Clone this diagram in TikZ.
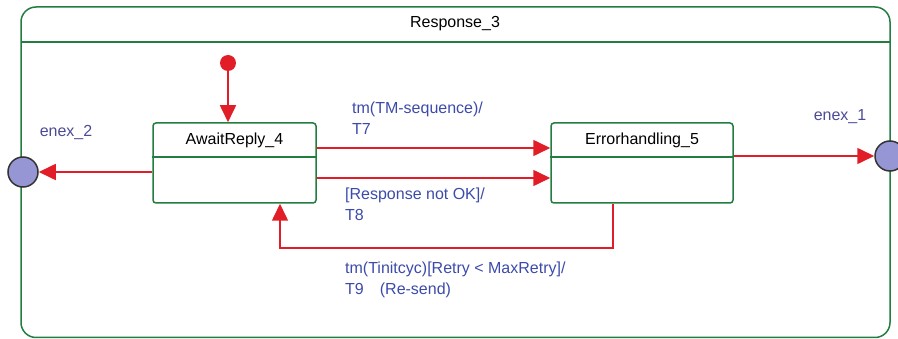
\documentclass[tikz,border=0pt]{standalone}
\usepackage{fontspec}
\setmainfont{Liberation Sans}
\usetikzlibrary{arrows.meta}
\definecolor{stgreen}{RGB}{35,125,65}
\definecolor{trred}{RGB}{225,30,40}
\definecolor{lblblue}{RGB}{60,75,170}
\definecolor{exblue}{RGB}{75,75,150}
\definecolor{exfill}{RGB}{150,150,212}
\begin{document}
\begin{tikzpicture}[x=1pt,y=-1pt,
  font=\fontsize{16}{20.5}\selectfont,
  statebox/.style={draw=stgreen,line width=1.5pt,rounded corners=3pt,minimum height=80pt,inner sep=0pt},
  tr/.style={draw=trred,line width=1.6pt,-{Triangle[length=17pt,width=16pt]}},
  lbl/.style={text=lblblue,align=left,anchor=north west,inner sep=0pt},
  exlbl/.style={text=exblue,inner sep=0pt},
  exnode/.style={circle,draw=black!80,line width=1.5pt,fill=exfill,minimum size=30pt,inner sep=0pt}]
\useasboundingbox (0,0) rectangle (898,339);
% container
\draw[stgreen,line width=1.5pt,rounded corners=15pt] (21,7) rectangle (890,337.5);
\draw[stgreen,line width=1.5pt] (21,42) -- (890,42);
\node (title) at (455,24) {Response\_3};
% states
\node[statebox,minimum width=163pt] (aw) at (234.5,163) {};
\node[anchor=center] (awt) at (234.5,140) {AwaitReply\_4};
\draw[stgreen,line width=1.5pt] (aw.west |- 0,157) -- (aw.east |- 0,157);
\node[statebox,minimum width=182pt] (eh) at (642,163) {};
\node[anchor=center] (eht) at (642,140) {Errorhandling\_5};
\draw[stgreen,line width=1.5pt] (eh.west |- 0,157) -- (eh.east |- 0,157);
% initial
\node[circle,fill=trred,minimum size=16pt,inner sep=0pt] (init) at (228,63) {};
% exits
\node[exnode] (ex2) at (23,172) {};
\node[exnode] (ex1) at (890,156) {};
\node[exlbl] (ex2l) at (66,133) {enex\_2};
\node[exlbl] (ex1l) at (840,117) {enex\_1};
% transitions
\draw[tr] (init) -- (init |- aw.north);
\draw[tr] ([yshift=-9pt]aw.west) -- (ex2);
\draw[tr] ([yshift=15pt]aw.east) -- ([yshift=15pt]eh.west);
\draw[tr] ([yshift=-15pt]aw.east) -- ([yshift=-15pt]eh.west);
\draw[tr] ([yshift=7pt]eh.east) -- (ex1);
\draw[tr] ([xshift=-29pt]eh.south) -- ++(0,44) -| ([xshift=45.5pt]aw.south);
% labels
\node[lbl] (l7) at (352,102) {tm(TM-sequence)/\\T7};
\node[lbl] (l8) at (345,188) {[Response not OK]/\\T8};
\node[lbl] (l9) at (345,262) {tm(Tinitcyc)[Retry < MaxRetry]/\\T9\quad(Re-send)};
\end{tikzpicture}
\end{document}
